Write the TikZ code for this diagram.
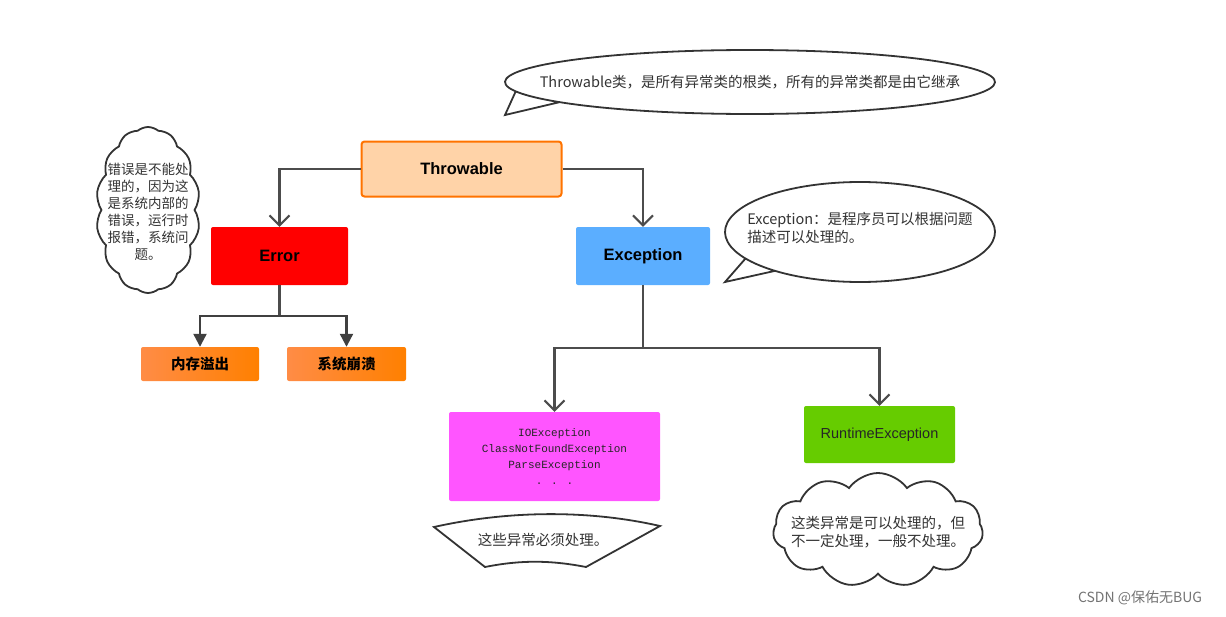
\documentclass[tikz,border=0pt]{standalone}
\usepackage{fontspec}
\setmainfont{Liberation Sans}
\newfontfamily\cjk{Noto Sans CJK SC}
\newfontfamily\monof{Liberation Mono}
\usetikzlibrary{shapes.symbols,arrows.meta,calc}
\begin{document}
\begin{tikzpicture}[x=1pt,y=-1pt,
  conn/.style={draw=black!70,line width=2.2pt,-{Straight Barb[length=10pt,width=20pt,line width=2pt]}},
  connf/.style={draw=black!75,line width=2.2pt,-{Triangle[length=13pt,width=13pt]}},
  line/.style={draw=black!70,line width=2.2pt},
  note/.style={font=\cjk\fontsize{14.5}{17.5}\selectfont,text=black!80},
  cloudn/.style={cloud,cloud puffs=#1,draw=black!80,line width=1.8pt,fill=white,inner sep=0pt}]
\useasboundingbox (0,0) rectangle (1226,616);
% boxes
\node[draw=orange!90!red,line width=2pt,fill={rgb,255:red,255;green,211;blue,168},rounded corners=3pt,minimum width=200pt,minimum height=55pt,font=\bfseries\fontsize{16.5}{18}\selectfont] (thr) at (461.5,169) {Throwable};
\node[fill=red,rounded corners=2pt,minimum width=137pt,minimum height=58pt,font=\bfseries\fontsize{16.5}{18}\selectfont] (err) at (279.5,256) {Error};
\node[fill={rgb,255:red,91;green,174;blue,255},rounded corners=2pt,minimum width=134pt,minimum height=58pt,font=\bfseries\fontsize{16.5}{18}\selectfont] (exc) at (643,256) {Exception};
\node[left color={rgb,255:red,255;green,140;blue,70},right color={rgb,255:red,255;green,128;blue,0},rounded corners=2pt,minimum width=118pt,minimum height=34pt,font=\cjk\bfseries\fontsize{14.5}{16}\selectfont] (oom) at (200,364) {内存溢出};
\node[left color={rgb,255:red,255;green,140;blue,70},right color={rgb,255:red,255;green,128;blue,0},rounded corners=2pt,minimum width=119pt,minimum height=34pt,font=\cjk\bfseries\fontsize{14.5}{16}\selectfont] (crash) at (346.5,364) {系统崩溃};
\node[fill={rgb,255:red,255;green,85;blue,255},rounded corners=2pt,minimum width=211pt,minimum height=89pt,align=center,font=\monof\fontsize{11}{16}\selectfont,text=black!85] (io) at (554.5,456.5) {IOException\\ClassNotFoundException\\ParseException\\. . .};
\node[fill={rgb,255:red,102;green,204;blue,0},rounded corners=2pt,minimum width=151pt,minimum height=57pt,font=\fontsize{14.5}{16}\selectfont,text=black!85] (rt) at (879.5,434.5) {RuntimeException};
% connectors
\draw[conn] (thr.west) -| (err.north);
\draw[conn] (thr.east) -| (exc.north);
\coordinate (es) at (279.5,316);
\draw[line] (err.south) -- (es);
\draw[connf] (es) -| (oom.north);
\draw[connf] (es) -| (crash.north);
\coordinate (xs) at (643,348);
\draw[line] (exc.south) -- (xs);
\draw[conn] (xs) -| (io.north);
\draw[conn] (xs) -| (rt.north);
% top speech bubble
\coordinate (c1) at (750,82);
\draw[line width=1.8pt,draw=black!80,fill=white] (505,115) -- ($(c1)+(141:245 and 32)$) arc[start angle=141,end angle=523,x radius=245,y radius=32] -- cycle;
\node[note] (t1) at (750,82) {Throwable类，是所有异常类的根类，所有的异常类都是由它继承};
% exception speech bubble
\coordinate (c2) at (860,232);
\draw[line width=1.8pt,draw=black!80,fill=white] (725,282) -- ($(c2)+(129:135 and 50)$) arc[start angle=129,end angle=508,x radius=135,y radius=50] -- cycle;
\node[note,align=left] (t2) at (860,228) {Exception：是程序员可以根据问题\\描述可以处理的。};
% left cloud
\node[cloudn=14,cloud puff arc=80,aspect=0.6,minimum width=104pt,minimum height=166pt] (cl1) at (148,210) {};
\node[note,align=center,font=\cjk\fontsize{13.5}{17}\selectfont] (t3) at (148,212) {错误是不能处\\理的，因为这\\是系统内部的\\错误，运行时\\报错，系统问\\题。};
% right cloud
\node[cloudn=11,cloud puff arc=110,aspect=1.9,minimum width=210pt,minimum height=114pt] (cl2) at (878,530) {};
\node[note,align=left] (t4) at (878,532) {这类异常是可以处理的，但\\不一定处理，一般不处理。};
% banner
\draw[line width=1.8pt,draw=black!80,fill=white] (434,527) .. controls (510,510) and (590,510) .. (660,526) -- (586,567) .. controls (550,560) and (520,560) .. (485,567) -- cycle;
\node[note] (t5) at (543,540) {这些异常必须处理。};
\node[font=\cjk\fontsize{14}{15}\selectfont,text=black!55] (wm) at (1140,598) {CSDN @保佑无BUG};
\end{tikzpicture}
\end{document}
